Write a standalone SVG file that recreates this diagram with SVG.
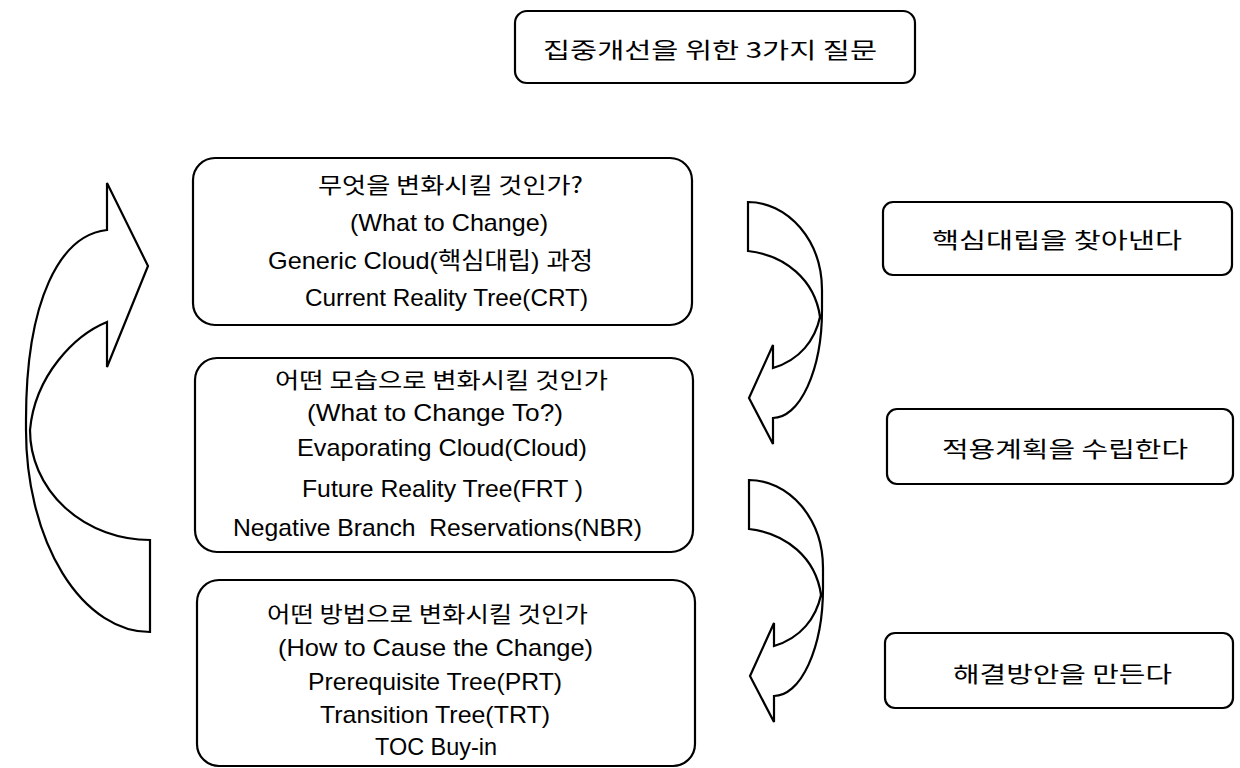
<svg xmlns="http://www.w3.org/2000/svg" width="1240" height="768" viewBox="0 0 1240 768">
<style>
.box{fill:#fff;stroke:#000;stroke-width:2.2}
.arr{fill:#fff;stroke:#000;stroke-width:2.2;stroke-linejoin:miter}
text{font-family:"Liberation Sans","Noto Sans CJK KR",sans-serif;font-size:24px;fill:#000;dominant-baseline:central}
.k{font-family:"Noto Sans CJK KR","Liberation Sans",sans-serif;font-size:22px}
</style>
<rect width="1240" height="768" fill="#fff"/>
<g id="connectors">
<path id="loop-left" class="arr" d="M150 632 L150 540 A120 110 0 0 1 30 430 C35 375 75 335 107 322 L107 367 L148 266 L107 183 L107 230 C60 235 26 300 26 420 L26 430 A124 202 0 0 0 150 632 Z"/>
<path id="arrow-r1" class="arr" d="M748 202 A74 88 0 0 1 822 290 L822 310 A49 108 0 0 1 773 418 L773 444 L749 398 L773 345 L773 368 C800 360 815 340 820 317 C815 280 785 255 748 251 Z"/>
<path id="arrow-r2" class="arr" transform="translate(1,278)" d="M748 202 A74 88 0 0 1 822 290 L822 310 A49 108 0 0 1 773 418 L773 444 L749 398 L773 345 L773 368 C800 360 815 340 820 317 C815 280 785 255 748 251 Z"/>
</g>
<g id="title">
<rect class="box" x="515" y="11" width="400" height="72" rx="12"/>
<text class="k" x="543" y="48" textLength="334" lengthAdjust="spacingAndGlyphs">집중개선을 위한 3가지 질문</text>
</g>
<g id="box-what">
<rect class="box" x="193" y="158" width="499" height="167" rx="22"/>
<text class="k" x="318" y="183" textLength="265" lengthAdjust="spacingAndGlyphs">무엇을 변화시킬 것인가?</text>
<text x="350" y="222" textLength="198" lengthAdjust="spacingAndGlyphs">(What to Change)</text>
<text x="268" y="260" textLength="325" lengthAdjust="spacingAndGlyphs">Generic Cloud(핵심대립) 과정</text>
<text x="305" y="297" textLength="283" lengthAdjust="spacingAndGlyphs">Current Reality Tree(CRT)</text>
</g>
<g id="box-to">
<rect class="box" x="195" y="358" width="498" height="194" rx="22"/>
<text class="k" x="275" y="378" textLength="333" lengthAdjust="spacingAndGlyphs">어떤 모습으로 변화시킬 것인가</text>
<text x="307" y="412" textLength="256" lengthAdjust="spacingAndGlyphs">(What to Change To?)</text>
<text x="297" y="447" textLength="290" lengthAdjust="spacingAndGlyphs">Evaporating Cloud(Cloud)</text>
<text x="302" y="488" textLength="281" lengthAdjust="spacingAndGlyphs">Future Reality Tree(FRT )</text>
<text x="233" y="527" textLength="409" lengthAdjust="spacingAndGlyphs" xml:space="preserve">Negative Branch  Reservations(NBR)</text>
</g>
<g id="box-how">
<rect class="box" x="197" y="580" width="498" height="186" rx="22"/>
<text class="k" x="267" y="612" textLength="321" lengthAdjust="spacingAndGlyphs">어떤 방법으로 변화시킬 것인가</text>
<text x="278" y="647" textLength="315" lengthAdjust="spacingAndGlyphs">(How to Cause the Change)</text>
<text x="308" y="681" textLength="254" lengthAdjust="spacingAndGlyphs">Prerequisite Tree(PRT)</text>
<text x="320" y="714" textLength="230" lengthAdjust="spacingAndGlyphs">Transition Tree(TRT)</text>
<text x="375" y="746" textLength="122" lengthAdjust="spacingAndGlyphs">TOC Buy-in</text>
</g>
<g id="r-core">
<rect class="box" x="883" y="202" width="349" height="73" rx="10"/>
<text class="k" x="932" y="238" textLength="250" lengthAdjust="spacingAndGlyphs">핵심대립을 찾아낸다</text>
</g>
<g id="r-plan">
<rect class="box" x="887" y="409" width="346" height="75" rx="10"/>
<text class="k" x="942" y="447" textLength="246" lengthAdjust="spacingAndGlyphs">적용계획을 수립한다</text>
</g>
<g id="r-solve">
<rect class="box" x="885" y="633" width="348" height="75" rx="10"/>
<text class="k" x="953" y="672" textLength="219" lengthAdjust="spacingAndGlyphs">해결방안을 만든다</text>
</g>
</svg>
